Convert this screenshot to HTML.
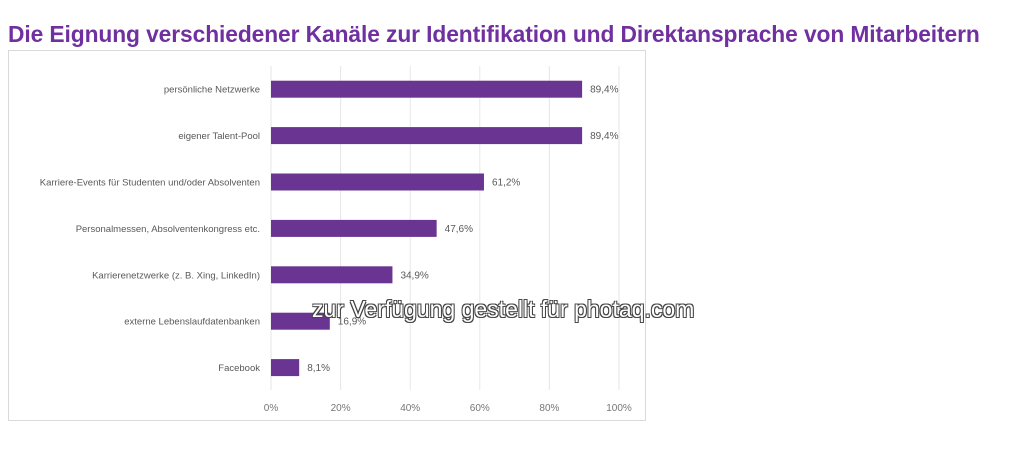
<!DOCTYPE html>
<html><head><meta charset="utf-8"><style>
body{margin:0;width:1024px;height:465px;background:#fff;overflow:hidden;font-family:"Liberation Sans",sans-serif}
#title{position:absolute;left:8px;top:21px;font-size:22.8px;font-weight:bold;color:#7030a0;white-space:nowrap;letter-spacing:-0.1px}
#box{position:absolute;left:8px;top:50px;width:638px;height:371px;border:1px solid #d9d9d9;box-sizing:border-box}
svg{position:absolute;left:0;top:0}
#wm{position:absolute;left:312px;top:296px;font-size:23px;color:#fff;white-space:nowrap;text-shadow:-1px -1px 0 #444,1px -1px 0 #444,-1px 1px 0 #444,1px 1px 0 #444}
</style></head><body>
<div id="title">Die Eignung verschiedener Kanäle zur Identifikation und Direktansprache von Mitarbeitern</div>
<div id="box"></div>
<svg id="chart" width="1024" height="465"></svg>
<div id="wm">zur Verfügung gestellt für photaq.com</div>
<script>
const categories=["persönliche Netzwerke","eigener Talent-Pool","Karriere-Events für Studenten und/oder Absolventen","Personalmessen, Absolventenkongress etc.","Karrierenetzwerke (z. B. Xing, LinkedIn)","externe Lebenslaufdatenbanken","Facebook"];
const values=[89.4,89.4,61.2,47.6,34.9,16.9,8.1];
const ticks=[0,20,40,60,80,100];
const tickLabels=["0%","20%","40%","60%","80%","100%"];
const NS="http://www.w3.org/2000/svg",svg=document.getElementById("chart");
const x0=271,x1=619,yTop=66,step=46.4,barH=17;
const xs=v=>x0+(x1-x0)*v/100;
const yc=i=>yTop+step*(i+0.5);
function mk(t,a,txt){const e=document.createElementNS(NS,t);for(const k in a)e.setAttribute(k,a[k]);if(txt!=null)e.textContent=txt;svg.appendChild(e);return e;}
ticks.forEach((t,i)=>{
 const g=mk("line",{x1:xs(t),x2:xs(t),y1:66,y2:390,stroke:"#e6e6e6","stroke-width":1});
 
 
 const l=mk("text",{x:xs(t),y:411,"text-anchor":"middle","font-size":10,fill:"#777"},tickLabels[i]);
 
 
});
categories.forEach((c,i)=>{
 const y=yc(i);
 const l=mk("text",{x:260,y:y+3.5,"text-anchor":"end","font-size":9.5,fill:"#595959"},c);
 
 
 const b=mk("rect",{x:x0,y:y-barH/2,width:xs(values[i])-x0,height:barH,fill:"#6a3592"});
 
 
 const v=mk("text",{x:xs(values[i])+8,y:y+3.5,"font-size":10,fill:"#595959"},values[i].toFixed(1).replace(".",",")+"%");
 
 
});
</script>
</body></html>
